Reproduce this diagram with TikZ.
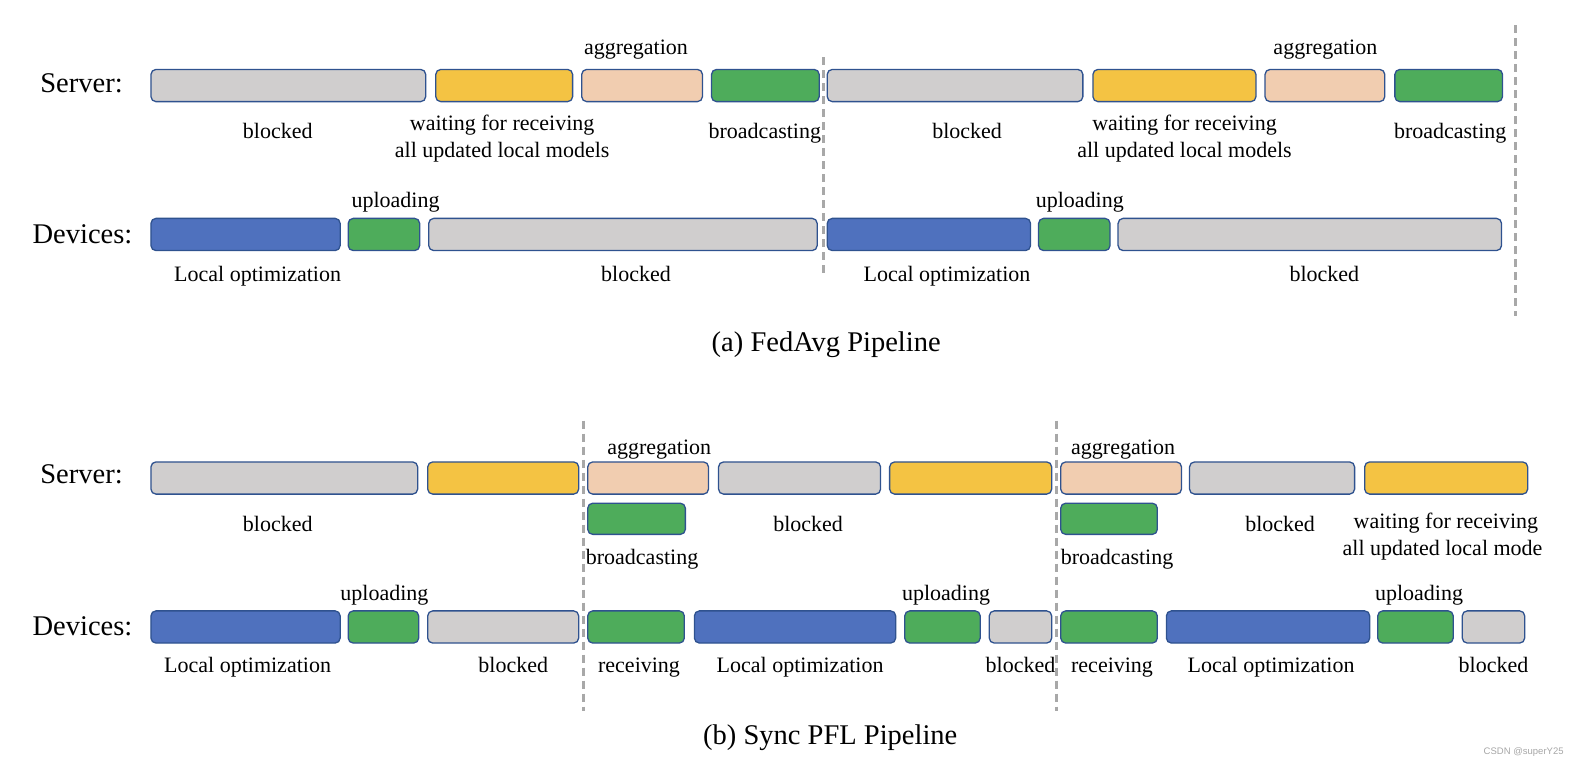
\documentclass[tikz,border=0pt]{standalone}
\usepackage{fontspec}
\setmainfont{Liberation Serif}
\newfontfamily\markfont{Liberation Sans}
\usetikzlibrary{positioning}
\definecolor{cidle}{HTML}{D0CECE}
\definecolor{cwait}{HTML}{F4C343}
\definecolor{cagg}{HTML}{F1CDB0}
\definecolor{ccomm}{HTML}{4EAC5B}
\definecolor{ccomp}{HTML}{4F71BE}
\definecolor{cedge}{HTML}{2F528F}
\definecolor{csplit}{HTML}{A8A8A8}
\tikzset{seg/.style = {draw=cedge, line width=1.3pt, rounded corners=5pt}}
\tikzset{idle/.style = {seg, fill=cidle}}
\tikzset{wait/.style = {seg, fill=cwait}}
\tikzset{agg/.style = {seg, fill=cagg}}
\tikzset{comm/.style = {seg, fill=ccomm}}
\tikzset{comp/.style = {seg, fill=ccomp}}
\tikzset{split/.style = {csplit, line width=2.6pt, dash pattern=on 8pt off 5pt}}
\tikzset{txt/.style = {inner sep=0, font=\fontsize{22}{27}\selectfont}}
\tikzset{lbl/.style = {txt, text height=15.5pt, text depth=0pt}}
\tikzset{side/.style = {inner sep=0, text height=19.5pt, text depth=0pt, font=\fontsize{28.5}{30}\selectfont}}

\begin{document}
\begin{tikzpicture}[x=1.0064pt, y=-1.0064pt]
    \useasboundingbox (0, 0) rectangle (1568, 765);

    % (a) FedAvg
    \node [side] (a-srv) at (81, 82) {Server:};
    \node [side] (a-dev) at (82, 232) {Devices:};

    \draw [idle] (150, 69) rectangle (423, 101);
    \draw [wait] (433, 69) rectangle (569, 101);
    \draw [agg] (578, 69) rectangle (698, 101);
    \draw [comm] (707, 69) rectangle (814, 101);
    \draw [idle] (822, 69) rectangle (1076, 101);
    \draw [wait] (1086, 69) rectangle (1248, 101);
    \draw [agg] (1257, 69) rectangle (1376, 101);
    \draw [comm] (1386, 69) rectangle (1493, 101);

    \draw [comp] (150, 217) rectangle (338, 249);
    \draw [comm] (346, 217) rectangle (417, 249);
    \draw [idle] (426, 217) rectangle (812, 249);
    \draw [comp] (822, 217) rectangle (1024, 249);
    \draw [comm] (1032, 217) rectangle (1103, 249);
    \draw [idle] (1111, 217) rectangle (1492, 249);

    \coordinate (a-cut1-top) at (818, 57);
    \coordinate (a-cut1-bot) at (818, 273);
    \coordinate (a-cut2-top) at (1506, 25);
    \coordinate (a-cut2-bot) at (1506, 314);
    \draw [split] (a-cut1-top) -- (a-cut1-bot);
    \draw [split] (a-cut2-top) -- (a-cut2-bot);

    \node [lbl] (a-agg1) at (632, 46) {aggregation};
    \node [lbl] (a-agg2) at (1317, 46) {aggregation};
    \node [lbl] (a-blk1) at (276, 130) {blocked};
    \node [txt, align=center] (a-wait1) at (499, 138) {waiting for receiving\\all updated local models};
    \node [lbl] (a-bc1) at (760, 130) {broadcasting};
    \node [lbl] (a-blk2) at (961, 130) {blocked};
    \node [txt, align=center] (a-wait2) at (1177, 138) {waiting for receiving\\all updated local models};
    \node [lbl] (a-bc2) at (1441, 130) {broadcasting};

    \node [lbl] (a-up1) at (393, 198) {uploading};
    \node [lbl] (a-up2) at (1073, 198) {uploading};
    \node [lbl] (a-opt1) at (256, 272) {Local optimization};
    \node [lbl] (a-blk3) at (632, 272) {blocked};
    \node [lbl] (a-opt2) at (941, 272) {Local optimization};
    \node [lbl] (a-blk4) at (1316, 272) {blocked};

    \node [side] (a-cap) at (821, 340) {(a) FedAvg Pipeline};

    % (b) Sync PFL
    \node [side] (b-srv) at (81, 471) {Server:};
    \node [side] (b-dev) at (82, 622) {Devices:};

    \draw [idle] (150, 459) rectangle (415, 491);
    \draw [wait] (425, 459) rectangle (575, 491);
    \draw [agg] (584, 459) rectangle (704, 491);
    \draw [idle] (714, 459) rectangle (875, 491);
    \draw [wait] (884, 459) rectangle (1045, 491);
    \draw [agg] (1054, 459) rectangle (1174, 491);
    \draw [idle] (1182, 459) rectangle (1346, 491);
    \draw [wait] (1356, 459) rectangle (1518, 491);
    \draw [comm] (584, 500) rectangle (681, 531);
    \draw [comm] (1054, 500) rectangle (1150, 531);

    \draw [comp] (150, 607) rectangle (338, 639);
    \draw [comm] (346, 607) rectangle (416, 639);
    \draw [idle] (425, 607) rectangle (575, 639);
    \draw [comm] (584, 607) rectangle (680, 639);
    \draw [comp] (690, 607) rectangle (890, 639);
    \draw [comm] (899, 607) rectangle (974, 639);
    \draw [idle] (983, 607) rectangle (1045, 639);
    \draw [comm] (1054, 607) rectangle (1150, 639);
    \draw [comp] (1159, 607) rectangle (1361, 639);
    \draw [comm] (1369, 607) rectangle (1444, 639);
    \draw [idle] (1453, 607) rectangle (1515, 639);

    \coordinate (b-cut1-top) at (580, 418);
    \coordinate (b-cut1-bot) at (580, 706);
    \coordinate (b-cut2-top) at (1050, 418);
    \coordinate (b-cut2-bot) at (1050, 706);
    \draw [split] (b-cut1-top) -- (b-cut1-bot);
    \draw [split] (b-cut2-top) -- (b-cut2-bot);

    \node [lbl] (b-agg1) at (655, 444) {aggregation};
    \node [lbl] (b-agg2) at (1116, 444) {aggregation};
    \node [lbl] (b-blk1) at (276, 520) {blocked};
    \node [lbl] (b-blk2) at (803, 520) {blocked};
    \node [lbl] (b-blk3) at (1272, 520) {blocked};
    \node [txt, align=left, anchor=north west] (b-wait) at (1334, 510) {\hspace*{11pt}waiting for receiving\\all updated local mode};
    \node [lbl] (b-bc1) at (638, 553) {broadcasting};
    \node [lbl] (b-bc2) at (1110, 553) {broadcasting};

    \node [lbl] (b-up1) at (382, 589) {uploading};
    \node [lbl] (b-up2) at (940, 589) {uploading};
    \node [lbl] (b-up3) at (1410, 589) {uploading};
    \node [lbl] (b-opt1) at (246, 661) {Local optimization};
    \node [lbl] (b-blk4) at (510, 661) {blocked};
    \node [lbl] (b-recv1) at (635, 661) {receiving};
    \node [lbl] (b-opt2) at (795, 661) {Local optimization};
    \node [lbl] (b-blk5) at (1014, 661) {blocked};
    \node [lbl] (b-recv2) at (1105, 661) {receiving};
    \node [lbl] (b-opt3) at (1263, 661) {Local optimization};
    \node [lbl] (b-blk6) at (1484, 661) {blocked};

    \node [side] (b-cap) at (825, 730) {(b) Sync PFL Pipeline};

    \node [inner sep=0, text=black!35, font=\markfont\fontsize{9.5}{11}\selectfont] (mark) at (1514, 747) {CSDN @superY25};
  \end{tikzpicture}
\end{document}
